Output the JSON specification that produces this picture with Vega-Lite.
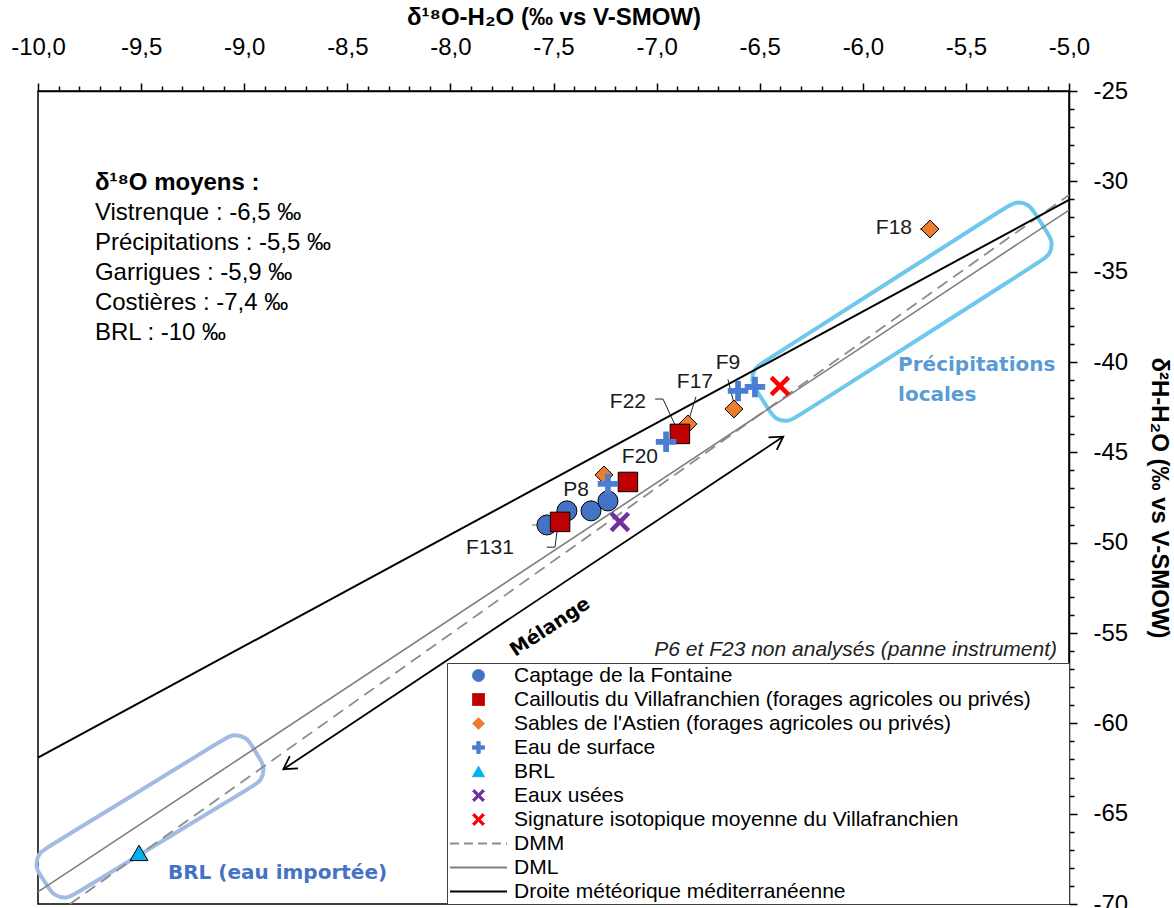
{
  "$schema": "https://vega.github.io/schema/vega-lite/v6.json",
  "width": 1031,
  "height": 813,
  "autosize": {"type": "none"},
  "padding": {"left": 38, "top": 91, "right": 105, "bottom": 4},
  "background": "white",
  "config": {"view": {"stroke": "black", "strokeWidth": 1.5}, "font": "Liberation Sans"},
  "datasets": {
    "pts": [
      {"serie": "Captage de la Fontaine", "x": -7.532, "y": -49.02},
      {"serie": "Captage de la Fontaine", "x": -7.435, "y": -48.24},
      {"serie": "Captage de la Fontaine", "x": -7.318, "y": -48.24},
      {"serie": "Captage de la Fontaine", "x": -7.236, "y": -47.69},
      {"serie": "Cailloutis du Villafranchien (forages agricoles ou privés)", "x": -6.887, "y": -43.98},
      {"serie": "Cailloutis du Villafranchien (forages agricoles ou privés)", "x": -7.139, "y": -46.64},
      {"serie": "Cailloutis du Villafranchien (forages agricoles ou privés)", "x": -7.468, "y": -48.85},
      {"serie": "Sables de l'Astien (forages agricoles ou privés)", "x": -5.674, "y": -32.64},
      {"serie": "Sables de l'Astien (forages agricoles ou privés)", "x": -6.625, "y": -42.6},
      {"serie": "Sables de l'Astien (forages agricoles ou privés)", "x": -6.848, "y": -43.43},
      {"serie": "Sables de l'Astien (forages agricoles ou privés)", "x": -7.255, "y": -46.25},
      {"serie": "Eau de surface", "x": -6.605, "y": -41.6},
      {"serie": "Eau de surface", "x": -6.523, "y": -41.38},
      {"serie": "Eau de surface", "x": -6.954, "y": -44.42},
      {"serie": "Eau de surface", "x": -7.236, "y": -46.75},
      {"serie": "BRL", "x": -9.51, "y": -67.17},
      {"serie": "Eaux usées", "x": -7.178, "y": -48.85},
      {"serie": "Signature isotopique moyenne du Villafranchien", "x": -6.402, "y": -41.33}
    ],
    "mlines": [
      {"serie": "DMM", "x": -9.845, "y": -70},
      {"serie": "DMM", "x": -5, "y": -30.76},
      {"serie": "DML", "x": -10, "y": -69.33},
      {"serie": "DML", "x": -5, "y": -31.59},
      {"serie": "Droite météorique méditerranéenne", "x": -10, "y": -61.9},
      {"serie": "Droite météorique méditerranéenne", "x": -5, "y": -31.03}
    ],
    "boxes": [
      {"box": "P", "i": 0, "x": -6.5157, "y": -41.569},
      {"box": "P", "i": 1, "x": -6.5418, "y": -41.103},
      {"box": "P", "i": 2, "x": -6.527, "y": -40.339},
      {"box": "P", "i": 3, "x": -6.4861, "y": -40.041},
      {"box": "P", "i": 4, "x": -5.3004, "y": -31.403},
      {"box": "P", "i": 5, "x": -5.2596, "y": -31.106},
      {"box": "P", "i": 6, "x": -5.1926, "y": -31.275},
      {"box": "P", "i": 7, "x": -5.1665, "y": -31.741},
      {"box": "P", "i": 8, "x": -5.1041, "y": -32.863},
      {"box": "P", "i": 9, "x": -5.078, "y": -33.33},
      {"box": "P", "i": 10, "x": -5.0928, "y": -34.094},
      {"box": "P", "i": 11, "x": -5.1337, "y": -34.392},
      {"box": "P", "i": 12, "x": -6.3193, "y": -43.029},
      {"box": "P", "i": 13, "x": -6.3602, "y": -43.327},
      {"box": "P", "i": 14, "x": -6.4272, "y": -43.158},
      {"box": "P", "i": 15, "x": -6.4532, "y": -42.692},
      {"box": "B", "i": 0, "x": -9.9885, "y": -68.408},
      {"box": "B", "i": 1, "x": -10.0139, "y": -67.937},
      {"box": "B", "i": 2, "x": -9.9978, "y": -67.176},
      {"box": "B", "i": 3, "x": -9.9565, "y": -66.887},
      {"box": "B", "i": 4, "x": -9.0966, "y": -60.873},
      {"box": "B", "i": 5, "x": -9.0552, "y": -60.584},
      {"box": "B", "i": 6, "x": -8.9886, "y": -60.767},
      {"box": "B", "i": 7, "x": -8.9632, "y": -61.238},
      {"box": "B", "i": 8, "x": -8.9252, "y": -61.946},
      {"box": "B", "i": 9, "x": -8.8998, "y": -62.418},
      {"box": "B", "i": 10, "x": -8.9158, "y": -63.178},
      {"box": "B", "i": 11, "x": -8.9572, "y": -63.468},
      {"box": "B", "i": 12, "x": -9.8171, "y": -69.426},
      {"box": "B", "i": 13, "x": -9.8584, "y": -69.715},
      {"box": "B", "i": 14, "x": -9.9251, "y": -69.532},
      {"box": "B", "i": 15, "x": -9.9505, "y": -69.06}
    ],
    "arrow": [
      {"end": "a", "x": -8.81, "y": -62.54},
      {"end": "b", "x": -6.386, "y": -44.13}
    ],
    "errs": [
      {"x": -6.655, "x2": -6.48, "y": -41.5},
      {"x": -7.605, "x2": -7.532, "y": -49.02}
    ],
    "leaders": [
      {"g": "F22", "i": 0, "x": -7.007, "y": -42.05},
      {"g": "F22", "i": 1, "x": -6.969, "y": -42.05},
      {"g": "F22", "i": 2, "x": -6.907, "y": -43.57},
      {"g": "F17", "i": 0, "x": -6.809, "y": -41.92},
      {"g": "F17", "i": 1, "x": -6.849, "y": -43.39},
      {"g": "F9", "i": 0, "x": -6.654, "y": -40.96},
      {"g": "F9", "i": 1, "x": -6.623, "y": -42.38},
      {"g": "F131", "i": 0, "x": -7.533, "y": -50.25},
      {"g": "F131", "i": 1, "x": -7.493, "y": -50.25},
      {"g": "F131", "i": 2, "x": -7.482, "y": -49.29},
      {"g": "F18", "i": 0, "x": -5.723, "y": -32.64},
      {"g": "F18", "i": 1, "x": -5.69, "y": -32.64}
    ],
    "texts": [
      {"kind": "head", "text": "δ¹⁸O moyens :", "x": -9.724, "y": -30.09},
      {"kind": "note", "text": "Vistrenque : -6,5 ‰", "x": -9.724, "y": -31.75},
      {"kind": "note", "text": "Précipitations : -5,5 ‰", "x": -9.724, "y": -33.41},
      {"kind": "note", "text": "Garrigues : -5,9 ‰", "x": -9.724, "y": -35.07},
      {"kind": "note", "text": "Costières : -7,4 ‰", "x": -9.724, "y": -36.73},
      {"kind": "note", "text": "BRL : -10 ‰", "x": -9.724, "y": -38.39},
      {"kind": "pt", "text": "F18", "x": -5.849, "y": -32.58},
      {"kind": "pt", "text": "F9", "x": -6.654, "y": -40.05},
      {"kind": "pt", "text": "F17", "x": -6.814, "y": -41.1},
      {"kind": "pt", "text": "F22", "x": -7.139, "y": -42.21},
      {"kind": "pt", "text": "F20", "x": -7.081, "y": -45.25},
      {"kind": "pt", "text": "P8", "x": -7.391, "y": -47.08},
      {"kind": "pt", "text": "F131", "x": -7.808, "y": -50.29},
      {"kind": "miss", "text": "P6 et F23 non analysés (panne instrument)", "x": -5.058, "y": -55.94},
      {"kind": "prec", "text": "Précipitations", "x": -5.829, "y": -40.16},
      {"kind": "prec", "text": "locales", "x": -5.829, "y": -41.82},
      {"kind": "brl", "text": "BRL (eau importée)", "x": -9.37, "y": -68.28},
      {"kind": "mel", "text": "Mélange", "x": -7.517, "y": -54.66}
    ]
  },
  "encoding": {
    "x": {
      "field": "x", "type": "quantitative",
      "scale": {"domain": [-10, -5], "nice": false, "zero": false},
      "axis": {
        "orient": "top",
        "title": "δ¹⁸O-H₂O (‰ vs V-SMOW)",
        "values": [-10,-9.9,-9.8,-9.7,-9.6,-9.5,-9.4,-9.3,-9.2,-9.1,-9,-8.9,-8.8,-8.7,-8.6,-8.5,-8.4,-8.3,-8.2,-8.1,-8,-7.9,-7.8,-7.7,-7.6,-7.5,-7.4,-7.3,-7.2,-7.1,-7,-6.9,-6.8,-6.7,-6.6,-6.5,-6.4,-6.3,-6.2,-6.1,-6,-5.9,-5.8,-5.7,-5.6,-5.5,-5.4,-5.3,-5.2,-5.1,-5],
        "labelExpr": "abs(datum.value*2 - round(datum.value*2)) < 0.001 ? '-' + replace(format(abs(datum.value), '.1f'), '.', ',') : ''",
        "tickSize": {"condition": {"test": "abs(datum.value*2 - round(datum.value*2)) < 0.001", "value": 8}, "value": 5},
        "tickColor": "black", "tickWidth": 1.5,
        "domainColor": "black", "domainWidth": 1.5,
        "labelFont": "Liberation Sans", "labelFontSize": 24, "labelColor": "black",
        "labelPadding": 24, "labelFlush": false, "labelOverlap": false, "labelBound": false,
        "titleFont": "Liberation Sans", "titleFontSize": 24, "titleFontWeight": "bold", "titleColor": "black",
        "titlePadding": 6,
        "grid": false
      }
    },
    "y": {
      "field": "y", "type": "quantitative",
      "scale": {"domain": [-70, -25], "nice": false, "zero": false},
      "axis": {
        "orient": "right",
        "title": "δ²H-H₂O (‰ vs V-SMOW)",
        "values": [-70,-69,-68,-67,-66,-65,-64,-63,-62,-61,-60,-59,-58,-57,-56,-55,-54,-53,-52,-51,-50,-49,-48,-47,-46,-45,-44,-43,-42,-41,-40,-39,-38,-37,-36,-35,-34,-33,-32,-31,-30,-29,-28,-27,-26,-25],
        "labelExpr": "datum.value % 5 === 0 ? '-' + abs(datum.value) : ''",
        "tickSize": {"condition": {"test": "datum.value % 5 === 0", "value": 8}, "value": 5},
        "tickColor": "black", "tickWidth": 1.5,
        "domainColor": "black", "domainWidth": 1.5,
        "labelFont": "Liberation Sans", "labelFontSize": 24, "labelColor": "black",
        "labelPadding": 16, "labelFlush": false, "labelOverlap": false, "labelBound": false,
        "titleFont": "Liberation Sans", "titleFontSize": 24, "titleFontWeight": "bold", "titleColor": "black",
        "titleAngle": 90, "titlePadding": 19,
        "grid": false
      }
    }
  },
  "layer": [
    {
      "data": {"name": "boxes"},
      "transform": [{"filter": "datum.box === 'P'"}],
      "mark": {"type": "line", "interpolate": "basis-closed", "stroke": "#6EC8EE", "strokeWidth": 4, "clip": false},
      "encoding": {"order": {"field": "i", "type": "quantitative"}}
    },
    {
      "data": {"name": "boxes"},
      "transform": [{"filter": "datum.box === 'B'"}],
      "mark": {"type": "line", "interpolate": "basis-closed", "stroke": "#A3BBE4", "strokeWidth": 4, "clip": false},
      "encoding": {"order": {"field": "i", "type": "quantitative"}}
    },
    {
      "data": {"name": "mlines"},
      "transform": [{"filter": "datum.serie === 'DMM'"}],
      "mark": {"type": "line", "strokeDash": [12, 7], "strokeWidth": 1.8},
      "encoding": {
        "color": {
          "field": "serie", "type": "nominal",
          "scale": {
            "domain": ["Captage de la Fontaine", "Cailloutis du Villafranchien (forages agricoles ou privés)", "Sables de l'Astien (forages agricoles ou privés)", "Eau de surface", "BRL", "Eaux usées", "Signature isotopique moyenne du Villafranchien", "DMM", "DML", "Droite météorique méditerranéenne"],
            "range": ["#4472C4", "#C00000", "#ED7D31", "#4A7ED2", "#00B0F0", "#7030A0", "#FF0000", "#8C8C8C", "#7F7F7F", "#000000"]
          },
          "legend": {
            "title": "\u00a0",
            "titleOrient": "right",
            "titlePadding": 36,
            "titleFontSize": 4,
            "orient": "bottom-right",
            "offset": 0,
            "padding": 2,
            "strokeColor": "#404040",
            "fillColor": "white",
            "labelFont": "Liberation Sans",
            "labelFontSize": 21,
            "labelColor": "black",
            "labelLimit": 900,
            "symbolSize": 144,
            "symbolOffset": 19,
            "labelOffset": 25,
            "rowPadding": 2,
            "symbolOpacity": 1,
            "encode": {
              "symbols": {
                "update": {
                  "shape": {"scale": "shape", "field": "value"},
                  "fill": {"scale": "color", "field": "value"},
                  "stroke": {"signal": "indexof(['DMM','DML'], datum.value) >= 0 ? '#8c8c8c' : (indexof(['Eau de surface','Eaux usées','Signature isotopique moyenne du Villafranchien'], datum.value) >= 0 ? 'transparent' : 'black')"},
                  "strokeWidth": {"signal": "indexof(['DMM','DML','Droite météorique méditerranéenne'], datum.value) >= 0 ? 2 : 1"},
                  "strokeDash": {"signal": "datum.value === 'DMM' ? [9, 5] : [1, 0]"},
                  "opacity": {"value": 1},
                  "size": {"value": 144}
                }
              }
            }
          }
        }
      }
    },
    {
      "data": {"name": "mlines"},
      "transform": [{"filter": "datum.serie === 'DML'"}],
      "mark": {"type": "line", "strokeWidth": 1.6},
      "encoding": {
        "color": {"field": "serie", "type": "nominal",
          "scale": {
            "domain": ["Captage de la Fontaine", "Cailloutis du Villafranchien (forages agricoles ou privés)", "Sables de l'Astien (forages agricoles ou privés)", "Eau de surface", "BRL", "Eaux usées", "Signature isotopique moyenne du Villafranchien", "DMM", "DML", "Droite météorique méditerranéenne"],
            "range": ["#4472C4", "#C00000", "#ED7D31", "#4A7ED2", "#00B0F0", "#7030A0", "#FF0000", "#8C8C8C", "#7F7F7F", "#000000"]
          }}
      }
    },
    {
      "data": {"name": "mlines"},
      "transform": [{"filter": "datum.serie === 'Droite météorique méditerranéenne'"}],
      "mark": {"type": "line", "strokeWidth": 2},
      "encoding": {
        "color": {"field": "serie", "type": "nominal",
          "scale": {
            "domain": ["Captage de la Fontaine", "Cailloutis du Villafranchien (forages agricoles ou privés)", "Sables de l'Astien (forages agricoles ou privés)", "Eau de surface", "BRL", "Eaux usées", "Signature isotopique moyenne du Villafranchien", "DMM", "DML", "Droite météorique méditerranéenne"],
            "range": ["#4472C4", "#C00000", "#ED7D31", "#4A7ED2", "#00B0F0", "#7030A0", "#FF0000", "#8C8C8C", "#7F7F7F", "#000000"]
          }}
      }
    },
    {
      "data": {"name": "arrow"},
      "mark": {"type": "line", "stroke": "black", "strokeWidth": 1.8},
      "encoding": {}
    },
    {
      "data": {"name": "arrow"},
      "transform": [{"filter": "datum.end === 'b'"}],
      "mark": {"type": "point", "shape": "M-2.3,-1.35L0,0L-2.3,1.35", "filled": false, "stroke": "black", "strokeWidth": 1.8, "size": 121, "angle": 326.4, "opacity": 1}
    },
    {
      "data": {"name": "arrow"},
      "transform": [{"filter": "datum.end === 'a'"}],
      "mark": {"type": "point", "shape": "M-2.3,-1.35L0,0L-2.3,1.35", "filled": false, "stroke": "black", "strokeWidth": 1.8, "size": 121, "angle": 146.4, "opacity": 1}
    },
    {
      "data": {"name": "errs"},
      "mark": {"type": "rule", "stroke": "#A0A0A0", "strokeWidth": 1.5},
      "encoding": {"x2": {"field": "x2"}}
    },
    {
      "data": {"name": "leaders"},
      "mark": {"type": "line", "stroke": "#222222", "strokeWidth": 1},
      "encoding": {"detail": {"field": "g"}, "order": {"field": "i", "type": "quantitative"}}
    },
    {
      "data": {"name": "pts"},
      "transform": [{"filter": "datum.serie === 'Captage de la Fontaine'"}],
      "mark": {"type": "point", "filled": true, "stroke": "black", "strokeWidth": 1, "size": 400, "opacity": 1},
      "encoding": {
        "color": {"field": "serie", "type": "nominal",
          "scale": {
            "domain": ["Captage de la Fontaine", "Cailloutis du Villafranchien (forages agricoles ou privés)", "Sables de l'Astien (forages agricoles ou privés)", "Eau de surface", "BRL", "Eaux usées", "Signature isotopique moyenne du Villafranchien", "DMM", "DML", "Droite météorique méditerranéenne"],
            "range": ["#4472C4", "#C00000", "#ED7D31", "#4A7ED2", "#00B0F0", "#7030A0", "#FF0000", "#8C8C8C", "#7F7F7F", "#000000"]
          }},
        "shape": {"field": "serie", "type": "nominal", "legend": null,
          "scale": {
            "domain": ["Captage de la Fontaine", "Cailloutis du Villafranchien (forages agricoles ou privés)", "Sables de l'Astien (forages agricoles ou privés)", "Eau de surface", "BRL", "Eaux usées", "Signature isotopique moyenne du Villafranchien", "DMM", "DML", "Droite météorique méditerranéenne"],
            "range": ["circle", "square", "diamond", "M-1,-0.28H-0.28V-1H0.28V-0.28H1V0.28H0.28V1H-0.28V0.28H-1Z", "triangle-up", "M-0.69,-1L0,-0.31L0.69,-1L1,-0.69L0.31,0L1,0.69L0.69,1L0,0.31L-0.69,1L-1,0.69L-0.31,0L-1,-0.69Z", "M-0.69,-1L0,-0.31L0.69,-1L1,-0.69L0.31,0L1,0.69L0.69,1L0,0.31L-0.69,1L-1,0.69L-0.31,0L-1,-0.69Z", "M-4.75,0H4.75", "M-4.75,0H4.75", "M-4.75,0H4.75"]
          }}
      }
    },
    {
      "data": {"name": "pts"},
      "transform": [{"filter": "datum.serie === 'Sables de l\\'Astien (forages agricoles ou privés)' || datum.serie === 'BRL'"}],
      "mark": {"type": "point", "filled": true, "stroke": "black", "strokeWidth": 1, "size": 320, "opacity": 1},
      "encoding": {
        "color": {"field": "serie", "type": "nominal",
          "scale": {
            "domain": ["Captage de la Fontaine", "Cailloutis du Villafranchien (forages agricoles ou privés)", "Sables de l'Astien (forages agricoles ou privés)", "Eau de surface", "BRL", "Eaux usées", "Signature isotopique moyenne du Villafranchien", "DMM", "DML", "Droite météorique méditerranéenne"],
            "range": ["#4472C4", "#C00000", "#ED7D31", "#4A7ED2", "#00B0F0", "#7030A0", "#FF0000", "#8C8C8C", "#7F7F7F", "#000000"]
          }},
        "shape": {"field": "serie", "type": "nominal", "legend": null,
          "scale": {
            "domain": ["Captage de la Fontaine", "Cailloutis du Villafranchien (forages agricoles ou privés)", "Sables de l'Astien (forages agricoles ou privés)", "Eau de surface", "BRL", "Eaux usées", "Signature isotopique moyenne du Villafranchien", "DMM", "DML", "Droite météorique méditerranéenne"],
            "range": ["circle", "square", "diamond", "M-1,-0.28H-0.28V-1H0.28V-0.28H1V0.28H0.28V1H-0.28V0.28H-1Z", "triangle-up", "M-0.69,-1L0,-0.31L0.69,-1L1,-0.69L0.31,0L1,0.69L0.69,1L0,0.31L-0.69,1L-1,0.69L-0.31,0L-1,-0.69Z", "M-0.69,-1L0,-0.31L0.69,-1L1,-0.69L0.31,0L1,0.69L0.69,1L0,0.31L-0.69,1L-1,0.69L-0.31,0L-1,-0.69Z", "M-4.75,0H4.75", "M-4.75,0H4.75", "M-4.75,0H4.75"]
          }}
      }
    },
    {
      "data": {"name": "pts"},
      "transform": [{"filter": "datum.serie === 'Cailloutis du Villafranchien (forages agricoles ou privés)'"}],
      "mark": {"type": "point", "filled": true, "stroke": "black", "strokeWidth": 1, "size": 380, "opacity": 1},
      "encoding": {
        "color": {"field": "serie", "type": "nominal",
          "scale": {
            "domain": ["Captage de la Fontaine", "Cailloutis du Villafranchien (forages agricoles ou privés)", "Sables de l'Astien (forages agricoles ou privés)", "Eau de surface", "BRL", "Eaux usées", "Signature isotopique moyenne du Villafranchien", "DMM", "DML", "Droite météorique méditerranéenne"],
            "range": ["#4472C4", "#C00000", "#ED7D31", "#4A7ED2", "#00B0F0", "#7030A0", "#FF0000", "#8C8C8C", "#7F7F7F", "#000000"]
          }},
        "shape": {"field": "serie", "type": "nominal", "legend": null,
          "scale": {
            "domain": ["Captage de la Fontaine", "Cailloutis du Villafranchien (forages agricoles ou privés)", "Sables de l'Astien (forages agricoles ou privés)", "Eau de surface", "BRL", "Eaux usées", "Signature isotopique moyenne du Villafranchien", "DMM", "DML", "Droite météorique méditerranéenne"],
            "range": ["circle", "square", "diamond", "M-1,-0.28H-0.28V-1H0.28V-0.28H1V0.28H0.28V1H-0.28V0.28H-1Z", "triangle-up", "M-0.69,-1L0,-0.31L0.69,-1L1,-0.69L0.31,0L1,0.69L0.69,1L0,0.31L-0.69,1L-1,0.69L-0.31,0L-1,-0.69Z", "M-0.69,-1L0,-0.31L0.69,-1L1,-0.69L0.31,0L1,0.69L0.69,1L0,0.31L-0.69,1L-1,0.69L-0.31,0L-1,-0.69Z", "M-4.75,0H4.75", "M-4.75,0H4.75", "M-4.75,0H4.75"]
          }}
      }
    },
    {
      "data": {"name": "pts"},
      "transform": [{"filter": "datum.serie === 'Eau de surface' || datum.serie === 'Eaux usées' || datum.serie === 'Signature isotopique moyenne du Villafranchien'"}],
      "mark": {"type": "point", "filled": true, "strokeWidth": 0, "size": 420, "opacity": 1},
      "encoding": {
        "color": {"field": "serie", "type": "nominal",
          "scale": {
            "domain": ["Captage de la Fontaine", "Cailloutis du Villafranchien (forages agricoles ou privés)", "Sables de l'Astien (forages agricoles ou privés)", "Eau de surface", "BRL", "Eaux usées", "Signature isotopique moyenne du Villafranchien", "DMM", "DML", "Droite météorique méditerranéenne"],
            "range": ["#4472C4", "#C00000", "#ED7D31", "#4A7ED2", "#00B0F0", "#7030A0", "#FF0000", "#8C8C8C", "#7F7F7F", "#000000"]
          }},
        "shape": {"field": "serie", "type": "nominal", "legend": null,
          "scale": {
            "domain": ["Captage de la Fontaine", "Cailloutis du Villafranchien (forages agricoles ou privés)", "Sables de l'Astien (forages agricoles ou privés)", "Eau de surface", "BRL", "Eaux usées", "Signature isotopique moyenne du Villafranchien", "DMM", "DML", "Droite météorique méditerranéenne"],
            "range": ["circle", "square", "diamond", "M-1,-0.28H-0.28V-1H0.28V-0.28H1V0.28H0.28V1H-0.28V0.28H-1Z", "triangle-up", "M-0.69,-1L0,-0.31L0.69,-1L1,-0.69L0.31,0L1,0.69L0.69,1L0,0.31L-0.69,1L-1,0.69L-0.31,0L-1,-0.69Z", "M-0.69,-1L0,-0.31L0.69,-1L1,-0.69L0.31,0L1,0.69L0.69,1L0,0.31L-0.69,1L-1,0.69L-0.31,0L-1,-0.69Z", "M-4.75,0H4.75", "M-4.75,0H4.75", "M-4.75,0H4.75"]
          }}
      }
    },
    {
      "data": {"name": "texts"},
      "transform": [{"filter": "datum.kind === 'head'"}],
      "mark": {"type": "text", "align": "left", "baseline": "middle", "font": "Liberation Sans", "fontSize": 24, "fontWeight": "bold", "color": "black"},
      "encoding": {"text": {"field": "text"}}
    },
    {
      "data": {"name": "texts"},
      "transform": [{"filter": "datum.kind === 'note'"}],
      "mark": {"type": "text", "align": "left", "baseline": "middle", "font": "Liberation Sans", "fontSize": 24, "color": "black"},
      "encoding": {"text": {"field": "text"}}
    },
    {
      "data": {"name": "texts"},
      "transform": [{"filter": "datum.kind === 'pt'"}],
      "mark": {"type": "text", "align": "center", "baseline": "middle", "font": "Liberation Sans", "fontSize": 21, "color": "#1a1a1a"},
      "encoding": {"text": {"field": "text"}}
    },
    {
      "data": {"name": "texts"},
      "transform": [{"filter": "datum.kind === 'miss'"}],
      "mark": {"type": "text", "align": "right", "baseline": "middle", "font": "Liberation Sans", "fontSize": 21, "fontStyle": "italic", "color": "#222222"},
      "encoding": {"text": {"field": "text"}}
    },
    {
      "data": {"name": "texts"},
      "transform": [{"filter": "datum.kind === 'prec'"}],
      "mark": {"type": "text", "align": "left", "baseline": "middle", "font": "DejaVu Sans", "fontSize": 20, "fontWeight": "bold", "color": "#5B9BD5"},
      "encoding": {"text": {"field": "text"}}
    },
    {
      "data": {"name": "texts"},
      "transform": [{"filter": "datum.kind === 'brl'"}],
      "mark": {"type": "text", "align": "left", "baseline": "middle", "font": "DejaVu Sans", "fontSize": 20, "fontWeight": "bold", "color": "#4472C4"},
      "encoding": {"text": {"field": "text"}}
    },
    {
      "data": {"name": "texts"},
      "transform": [{"filter": "datum.kind === 'mel'"}],
      "mark": {"type": "text", "align": "center", "baseline": "middle", "font": "DejaVu Sans", "fontSize": 19, "fontWeight": "bold", "color": "black", "angle": 326.4},
      "encoding": {"text": {"field": "text"}}
    }
  ]
}
